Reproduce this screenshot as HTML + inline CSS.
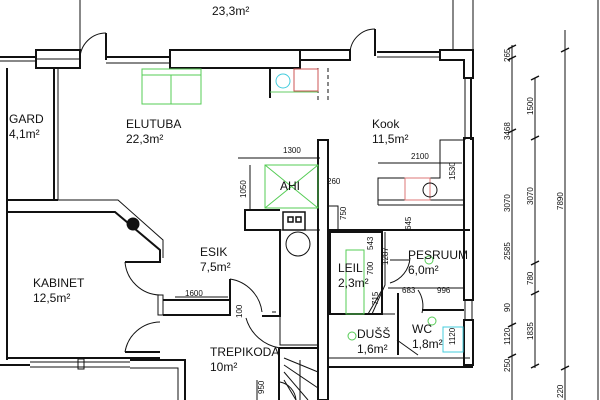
<!DOCTYPE html>
<html><head><meta charset="utf-8"><style>
body{margin:0;background:#fff}
svg{display:block}
text{font-family:"Liberation Sans",sans-serif;fill:#111}
.l{font-size:12px}
.s{font-size:8px}
</style></head><body>
<svg width="600" height="400" viewBox="0 0 600 400" xmlns="http://www.w3.org/2000/svg">
<g stroke="#111" fill="none" stroke-width="1">
<!-- top outside lines -->
<line x1="80" y1="0" x2="80" y2="52"/>
<line x1="453" y1="0" x2="453" y2="50"/>
<line x1="473" y1="0" x2="473" y2="50"/>
<!-- top wall -->
<line x1="0" y1="57" x2="36" y2="57" stroke-width="2"/>
<line x1="0" y1="61" x2="36" y2="61"/>
<rect x="36" y="50" width="44" height="18" stroke-width="2"/>
<line x1="36" y1="59" x2="80" y2="59"/>
<path d="M106 33 A26 26 0 0 0 80 59"/>
<line x1="106" y1="33" x2="106" y2="60" stroke-width="2"/>
<line x1="106" y1="57" x2="170" y2="57" stroke-width="2"/>
<line x1="106" y1="63" x2="170" y2="63"/>
<rect x="170" y="50" width="130" height="18" stroke-width="2"/>
<rect x="300" y="50" width="50" height="10" stroke-width="2"/>
<path d="M375 29 A25 25 0 0 0 350 54"/>
<line x1="375" y1="29" x2="375" y2="56" stroke-width="2"/>
<line x1="377" y1="52" x2="440" y2="52" stroke-width="2"/>
<line x1="377" y1="57" x2="440" y2="57"/>
<path d="M440 50 H473 V78 H464 V60 H440 Z" stroke-width="2"/>
<!-- right wall -->
<line x1="465" y1="78" x2="465" y2="140"/>
<line x1="471" y1="78" x2="471" y2="140" stroke-width="2"/>
<rect x="464" y="138" width="9" height="162" stroke-width="2"/>
<line x1="465" y1="300" x2="465" y2="320"/>
<line x1="472" y1="300" x2="472" y2="320"/>
<rect x="464" y="320" width="9" height="45" stroke-width="2"/>
<line x1="328" y1="367" x2="473" y2="367" stroke-width="2"/>
<!-- gard -->
<line x1="7" y1="68" x2="7" y2="212" stroke-width="2"/>
<line x1="54" y1="68" x2="54" y2="200" stroke-width="2"/>
<line x1="58" y1="68" x2="58" y2="200"/>
<line x1="7" y1="200" x2="58" y2="200" stroke-width="2"/>
<!-- kabinet -->
<path d="M7 212 H115 L160 250 V262 H125" stroke-width="2"/>
<path d="M7 200 H118 L163 240 V258" stroke-width="1"/>
<circle cx="133" cy="224" r="6" fill="#111"/>
<line x1="7" y1="212" x2="7" y2="360" stroke-width="2"/>
<line x1="7" y1="358" x2="160" y2="358" stroke-width="2"/>
<line x1="0" y1="365" x2="30" y2="365" stroke-width="2"/>
<line x1="30" y1="362" x2="130" y2="362"/>
<line x1="30" y1="367" x2="130" y2="367"/>
<rect x="78" y="359" width="6" height="10"/>
<path d="M130 360 H185 V400" stroke-width="2"/>
<path d="M130 368 H178 V400"/>
<path d="M125 262 A36 36 0 0 0 160 295"/>
<path d="M125 352 A36 36 0 0 1 160 322"/>
<line x1="125" y1="352" x2="160" y2="352" stroke-width="2"/>
<rect x="158" y="295" width="5" height="20"/>
<line x1="163" y1="300" x2="230" y2="300" stroke-width="2"/>
<line x1="163" y1="315" x2="230" y2="315" stroke-width="2"/>
<path d="M230 279 A38 38 0 0 1 262 312"/>
<line x1="230" y1="279" x2="230" y2="316" stroke-width="2"/>
<path d="M246 318 A42 42 0 0 0 280 348"/>
<!-- esik right wall -->
<path d="M262 316 H280 V230 H245 V210 H280" stroke-width="2"/>
<path d="M272 312 H276"/>
<rect x="283" y="212" width="22" height="18" stroke-width="1.5"/>
<rect x="288" y="217" width="5" height="5" stroke-width="1.5"/>
<rect x="296" y="217" width="5" height="5" stroke-width="1.5"/>
<line x1="280" y1="230" x2="320" y2="230"/>
<circle cx="298" cy="244" r="12"/>
<path d="M280 230 V345 H318"/>
<!-- stair area -->
<path d="M279 348 H318 V400" stroke-width="2"/>
<path d="M279 348 V400" stroke-width="2"/>
<line x1="284" y1="358" x2="318" y2="372"/>
<line x1="284" y1="365" x2="318" y2="388"/>
<line x1="284" y1="372" x2="308" y2="400"/>
<line x1="284" y1="380" x2="296" y2="400"/>
<path d="M296 400 A20 20 0 0 0 280 382"/>
<line x1="300" y1="360" x2="300" y2="400"/>
<!-- central wall -->
<rect x="318" y="140" width="10" height="260" stroke-width="2"/>
<line x1="318" y1="68" x2="318" y2="100" stroke-dasharray="4 3"/>
<line x1="328" y1="68" x2="328" y2="100" stroke-dasharray="4 3"/>
<path d="M328 206 H338 V230"/>
<line x1="328" y1="230" x2="470" y2="230" stroke-width="2"/>
<line x1="270" y1="68" x2="270" y2="98" stroke-width="2"/>
<line x1="270" y1="92" x2="318" y2="92" stroke="#6c6"/>
<!-- kitchen counter -->
<path d="M378 205 V178 H440 V140 H464"/>
<path d="M378 205 H464"/>
<path d="M378 200 H464"/>
<!-- leil / pesuruum -->
<rect x="330" y="232" width="52" height="82" stroke-width="2"/>
<path d="M382 290 L368 314"/>
<path d="M385 232 V285 L372 314"/>
<line x1="390" y1="260" x2="410" y2="260"/>
<path d="M390 283 A28 28 0 0 0 410 258"/>
<line x1="388" y1="288" x2="464" y2="288"/>
<path d="M398 293 V355" stroke-width="2"/>
<path d="M418 290 A28 28 0 0 1 422 313"/>
<line x1="422" y1="310" x2="464" y2="310" stroke-width="2"/>
<path d="M328 314 H395"/>
<line x1="397" y1="340" x2="418" y2="355"/>
<line x1="328" y1="358" x2="470" y2="358" stroke-width="1"/>
<!-- right dimension lines -->
<line x1="512" y1="45" x2="512" y2="400"/>
<line x1="535" y1="78" x2="535" y2="368"/>
<line x1="565" y1="30" x2="565" y2="400"/>
<line x1="598" y1="0" x2="598" y2="400"/>
<line x1="238" y1="158" x2="320" y2="158"/>
<line x1="250" y1="165" x2="250" y2="210"/>
<line x1="378" y1="163" x2="462" y2="163"/>
<line x1="175" y1="297" x2="228" y2="297"/>
<line x1="257" y1="380" x2="257" y2="400"/>
</g>
<g stroke="#111" stroke-width="1.5">
<path d="M508 49 l8 -4 M508 60 l8 -4 M508 133 l8 -4 M508 327 l8 -4 M508 358 l8 -4"/>
<path d="M531 80 l8 -4 M531 140 l8 -4 M531 265 l8 -4 M531 295 l8 -4 M531 368 l8 -4"/>
<path d="M561 52 l8 -4 M561 370 l8 -4"/>
</g>
<!-- green/colored items -->
<g fill="none">
<rect x="142" y="69" width="59" height="35" stroke="#5c5"/>
<line x1="142" y1="75" x2="201" y2="75" stroke="#5c5"/>
<line x1="171" y1="75" x2="171" y2="104" stroke="#5c5"/>
<rect x="265" y="165" width="53" height="43" stroke="#5c5"/>
<path d="M265 165 L318 208 M318 165 L265 208" stroke="#5c5"/>
<circle cx="283" cy="81" r="7" stroke="#4cd"/>
<rect x="294" y="69" width="24" height="22" stroke="#c55"/>
<rect x="405" y="178" width="25" height="22" stroke="#d77"/>
<rect x="346" y="250" width="18" height="64" stroke="#5c5"/>
<rect x="443" y="327" width="20" height="25" stroke="#4cd"/>
<circle cx="430" cy="190" r="7" stroke="#111"/>
<circle cx="352" cy="336" r="4" stroke="#5c5"/>
<circle cx="432" cy="321" r="4" stroke="#5c5"/>
<circle cx="429" cy="260" r="4" stroke="#5c5"/>
</g>
<!-- labels -->
<text x="212" y="15" class="l">23,3m²</text>
<text x="9" y="123" class="l">GARD</text>
<text x="9" y="138" class="l">4,1m²</text>
<text x="126" y="128" class="l">ELUTUBA</text>
<text x="126" y="143" class="l">22,3m²</text>
<text x="372" y="128" class="l">Kook</text>
<text x="372" y="143" class="l">11,5m²</text>
<text x="280" y="190" class="l">AHI</text>
<text x="200" y="256" class="l">ESIK</text>
<text x="200" y="271" class="l">7,5m²</text>
<text x="33" y="287" class="l">KABINET</text>
<text x="33" y="302" class="l">12,5m²</text>
<text x="210" y="356" class="l">TREPIKODA</text>
<text x="210" y="371" class="l">10m²</text>
<text x="338" y="272" class="l">LEIL</text>
<text x="338" y="287" class="l">2,3m²</text>
<text x="408" y="259" class="l">PESRUUM</text>
<text x="408" y="274" class="l">6,0m²</text>
<text x="357" y="338" class="l">DUŠŠ</text>
<text x="357" y="353" class="l">1,6m²</text>
<text x="412" y="333" class="l">WC</text>
<text x="412" y="348" class="l">1,8m²</text>
<text x="283" y="153" class="s">1300</text>
<text x="411" y="159" class="s">2100</text>
<text x="185" y="296" class="s">1600</text>
<text x="327" y="184" class="s">260</text>
<text x="402" y="293" class="s">683</text>
<text x="437" y="293" class="s">996</text>
<g class="s">
<text transform="translate(246,198) rotate(-90)">1050</text>
<text transform="translate(455,180) rotate(-90)">1530</text>
<text transform="translate(346,220) rotate(-90)">750</text>
<text transform="translate(411,230) rotate(-90)">645</text>
<text transform="translate(373,250) rotate(-90)">543</text>
<text transform="translate(373,275) rotate(-90)">700</text>
<text transform="translate(388,265) rotate(-90)">1287</text>
<text transform="translate(378,305) rotate(-90)">715</text>
<text transform="translate(455,345) rotate(-90)">1120</text>
<text transform="translate(242,318) rotate(-90)">100</text>
<text transform="translate(264,394) rotate(-90)">950</text>
<text transform="translate(510,62) rotate(-90)">265</text>
<text transform="translate(510,140) rotate(-90)">3468</text>
<text transform="translate(510,212) rotate(-90)">3070</text>
<text transform="translate(510,260) rotate(-90)">2585</text>
<text transform="translate(510,312) rotate(-90)">90</text>
<text transform="translate(510,345) rotate(-90)">1120</text>
<text transform="translate(510,372) rotate(-90)">250</text>
<text transform="translate(533,115) rotate(-90)">1500</text>
<text transform="translate(533,205) rotate(-90)">3070</text>
<text transform="translate(533,285) rotate(-90)">780</text>
<text transform="translate(533,340) rotate(-90)">1835</text>
<text transform="translate(563,210) rotate(-90)">7890</text>
<text transform="translate(563,398) rotate(-90)">220</text>
</g>
</svg>
</body></html>
